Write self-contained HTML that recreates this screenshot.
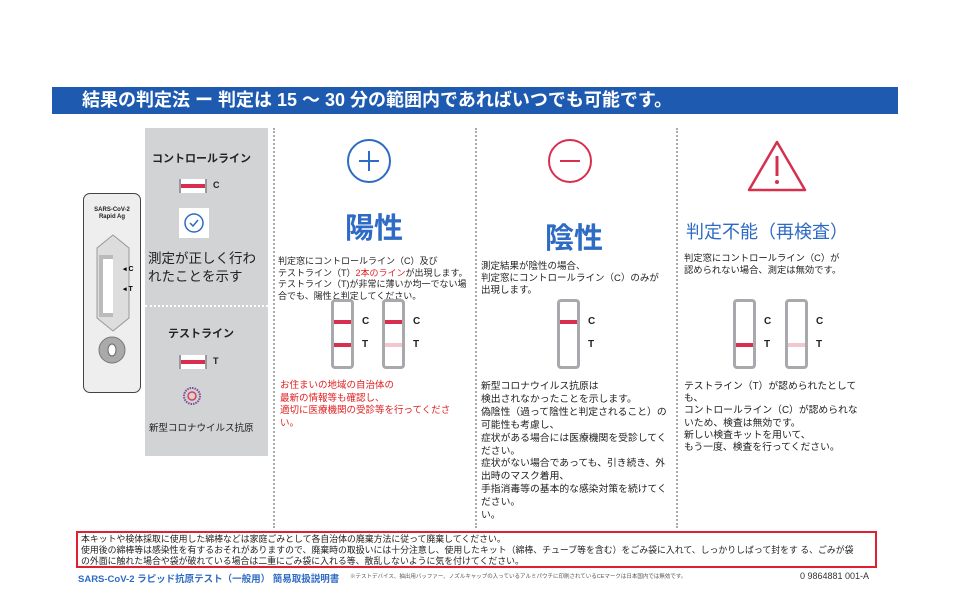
<!DOCTYPE html>
<html><head><meta charset="utf-8"><style>
*{margin:0;padding:0;box-sizing:border-box}
body{width:970px;height:600px;background:#fff;position:relative;overflow:hidden;font-family:"Liberation Sans","Noto Sans CJK JP",sans-serif;color:#222}
.a{position:absolute;white-space:nowrap}
.t{font-size:9px;line-height:11.5px}
.vd{position:absolute;width:0;border-left:2px dotted #aaa;top:128px;height:400px}
.strip{position:absolute;width:23px;height:70px;border:3px solid #a7a9ac;border-radius:4px;background:#fff}
.ln{position:absolute;left:0;right:0;height:4px}
.lb{position:absolute;font-size:10px;font-weight:bold}
</style></head><body>
<div class="a" style="left:52px;top:87px;width:846px;height:27px;background:#1e5bb0;color:#fff;font-weight:bold;font-size:18px;line-height:27px;padding-left:30px">結果の判定法 ー 判定は 15 〜 30 分の範囲内であればいつでも可能です。</div>

<!-- device -->
<div class="a" style="left:83px;top:193px;width:58px;height:200px;border:1.5px solid #444;border-radius:7px;background:#eee"></div>
<div class="a" style="left:83px;top:207px;width:58px;text-align:center;font-size:6px;font-weight:bold;line-height:7px">SARS-CoV-2<br>Rapid Ag</div>
<svg class="a" style="left:83px;top:193px" width="58" height="200">
<polygon points="30,42 46,55 46,125 30,138 14,125 14,55" fill="#ddd" stroke="#999"/>
<rect x="16" y="62" width="14" height="62" fill="#bbb"/>
<rect x="20" y="66" width="10" height="54" fill="#fff"/>
<text x="40" y="78" font-size="7" font-weight="bold">◂ C</text>
<text x="40" y="98" font-size="7" font-weight="bold">◂ T</text>
<circle cx="29" cy="157" r="13" fill="#aaa" stroke="#777"/>
<ellipse cx="29" cy="157" rx="4" ry="6" fill="#fff" stroke="#666"/>
</svg>

<!-- gray panel -->
<div class="a" style="left:145px;top:128px;width:123px;height:328px;background:#d1d3d4"></div>
<div class="a" style="left:145px;top:305px;width:123px;border-top:2px dotted #fff"></div>
<div class="a" style="left:152px;top:150px;font-size:11px;font-weight:bold">コントロールライン</div>
<div class="a" style="left:179px;top:179px;width:28px;height:14px;background:#fff;border-left:2px solid #999;border-right:2px solid #999"><div style="margin-top:5px;height:4px;background:#d7304f"></div></div>
<div class="a lb" style="left:213px;top:180px;font-size:9px">C</div>
<div class="a" style="left:179px;top:208px;width:30px;height:30px;background:#fff"></div>
<svg class="a" style="left:183px;top:212px" width="22" height="22"><circle cx="11" cy="11" r="9" fill="none" stroke="#2e6bc4" stroke-width="1.5"/><polyline points="7,11 10,14 15,8" fill="none" stroke="#2e6bc4" stroke-width="1.5"/></svg>
<div class="a" style="left:148px;top:250px;font-size:13.5px;line-height:18px">測定が正しく行わ<br>れたことを示す</div>
<div class="a" style="left:168px;top:325px;font-size:11px;font-weight:bold">テストライン</div>
<div class="a" style="left:179px;top:355px;width:28px;height:14px;background:#fff;border-left:2px solid #999;border-right:2px solid #999"><div style="margin-top:5px;height:4px;background:#d7304f"></div></div>
<div class="a lb" style="left:213px;top:356px;font-size:9px">T</div>
<svg class="a" style="left:181px;top:385px" width="22" height="22"><circle cx="11" cy="11" r="8" fill="none" stroke="#7b4aa0" stroke-width="2" stroke-dasharray="1.5 1"/><circle cx="11" cy="11" r="4" fill="none" stroke="#e04050" stroke-width="1.5"/></svg>
<div class="a" style="left:149px;top:420px;font-size:9.5px">新型コロナウイルス抗原</div>

<div class="vd" style="left:273px"></div>
<div class="vd" style="left:475px"></div>
<div class="vd" style="left:676px"></div>

<!-- positive -->
<svg class="a" style="left:346px;top:138px" width="46" height="46"><circle cx="23" cy="23" r="21" fill="none" stroke="#2e6bc4" stroke-width="2"/><path d="M23 13v20M13 23h20" stroke="#2e6bc4" stroke-width="2"/></svg>
<div class="a" style="left:345px;top:205px;font-size:29px;font-weight:bold;color:#2e6bc4">陽性</div>
<div class="a t" style="left:278px;top:256px">判定窓にコントロールライン（C）及び<br>テストライン（T）<span style="color:#e02020">2本のライン</span>が出現します。<br>テストライン（T)が非常に薄いか均一でない場<br>合でも、陽性と判定してください。</div>
<div class="strip" style="left:331px;top:299px"><div class="ln" style="top:18px;background:#d7304f"></div><div class="ln" style="top:41px;background:#d7304f"></div></div>
<div class="a lb" style="left:362px;top:316px">C</div><div class="a lb" style="left:362px;top:339px">T</div>
<div class="strip" style="left:382px;top:299px"><div class="ln" style="top:18px;background:#d7304f"></div><div class="ln" style="top:41px;background:#f5c6cf"></div></div>
<div class="a lb" style="left:413px;top:316px">C</div><div class="a lb" style="left:413px;top:339px">T</div>
<div class="a" style="left:280px;top:380px;color:#e02020;font-size:9.5px;line-height:12.5px">お住まいの地域の自治体の<br>最新の情報等も確認し、<br>適切に医療機関の受診等を行ってくださ<br>い。</div>

<!-- negative -->
<svg class="a" style="left:547px;top:138px" width="46" height="46"><circle cx="23" cy="23" r="21" fill="none" stroke="#d7304f" stroke-width="2"/><path d="M13 23h20" stroke="#d7304f" stroke-width="2"/></svg>
<div class="a" style="left:545px;top:215px;font-size:29px;font-weight:bold;color:#2e6bc4">陰性</div>
<div class="a" style="left:481px;top:261px;font-size:9.5px;line-height:12px">測定結果が陰性の場合、<br>判定窓にコントロールライン（C）のみが<br>出現します。</div>
<div class="strip" style="left:557px;top:299px"><div class="ln" style="top:18px;background:#d7304f"></div></div>
<div class="a lb" style="left:588px;top:316px">C</div><div class="a lb" style="left:588px;top:339px">T</div>
<div class="a" style="left:481px;top:381px;font-size:9.8px;line-height:12.9px">新型コロナウイルス抗原は<br>検出されなかったことを示します。<br>偽陰性（過って陰性と判定されること）の<br>可能性も考慮し、<br>症状がある場合には医療機関を受診してく<br>ださい。<br>症状がない場合であっても、引き続き、外<br>出時のマスク着用、<br>手指消毒等の基本的な感染対策を続けてく<br>ださい。<br>い。</div>

<!-- invalid -->
<svg class="a" style="left:746px;top:138px" width="62" height="56"><path d="M31 4 L59 52 L3 52 Z" fill="none" stroke="#d7304f" stroke-width="2.5" stroke-linejoin="round"/><path d="M31 18v20" stroke="#d7304f" stroke-width="3"/><circle cx="31" cy="44" r="2" fill="#d7304f"/></svg>
<div class="a" style="left:686px;top:218px;font-size:18px;color:#2e6bc4">判定不能（再検査）</div>
<div class="a" style="left:684px;top:252px;font-size:9.3px;line-height:12px">判定窓にコントロールライン（C）が<br>認められない場合、測定は無効です。</div>
<div class="strip" style="left:733px;top:299px"><div class="ln" style="top:41px;background:#d7304f"></div></div>
<div class="a lb" style="left:764px;top:316px">C</div><div class="a lb" style="left:764px;top:339px">T</div>
<div class="strip" style="left:785px;top:299px"><div class="ln" style="top:41px;background:#f5c6cf"></div></div>
<div class="a lb" style="left:816px;top:316px">C</div><div class="a lb" style="left:816px;top:339px">T</div>
<div class="a" style="left:684px;top:381px;font-size:9.8px;line-height:12.2px">テストライン（T）が認められたとして<br>も、<br>コントロールライン（C）が認められな<br>いため、検査は無効です。<br>新しい検査キットを用いて、<br>もう一度、検査を行ってください。</div>

<!-- bottom -->
<div class="a" style="left:76px;top:531px;width:801px;height:37px;border:2px solid #e02030;padding:1px 3px;font-size:8.9px;line-height:11px">本キットや検体採取に使用した綿棒などは家庭ごみとして各自治体の廃棄方法に従って廃棄してください。<br>使用後の綿棒等は感染性を有するおそれがありますので、廃棄時の取扱いには十分注意し、使用したキット（綿棒、チューブ等を含む）をごみ袋に入れて、しっかりしばって封をす る、ごみが袋<br>の外面に触れた場合や袋が破れている場合は二重にごみ袋に入れる等、散乱しないように気を付けてください。</div>
<div class="a" style="left:78px;top:571px;font-size:9.5px;font-weight:bold;color:#2e6bc4">SARS-CoV-2 ラピッド抗原テスト（一般用） 簡易取扱説明書</div>
<div class="a" style="left:350px;top:572px;font-size:5.5px;color:#555">※テストデバイス、抽出用バッファー、ノズルキャップの入っているアルミパウチに印刷されているCEマークは日本国内では無効です。</div>
<div class="a" style="left:800px;top:571px;font-size:9px;color:#333">0 9864881 001-A</div>
</body></html>
